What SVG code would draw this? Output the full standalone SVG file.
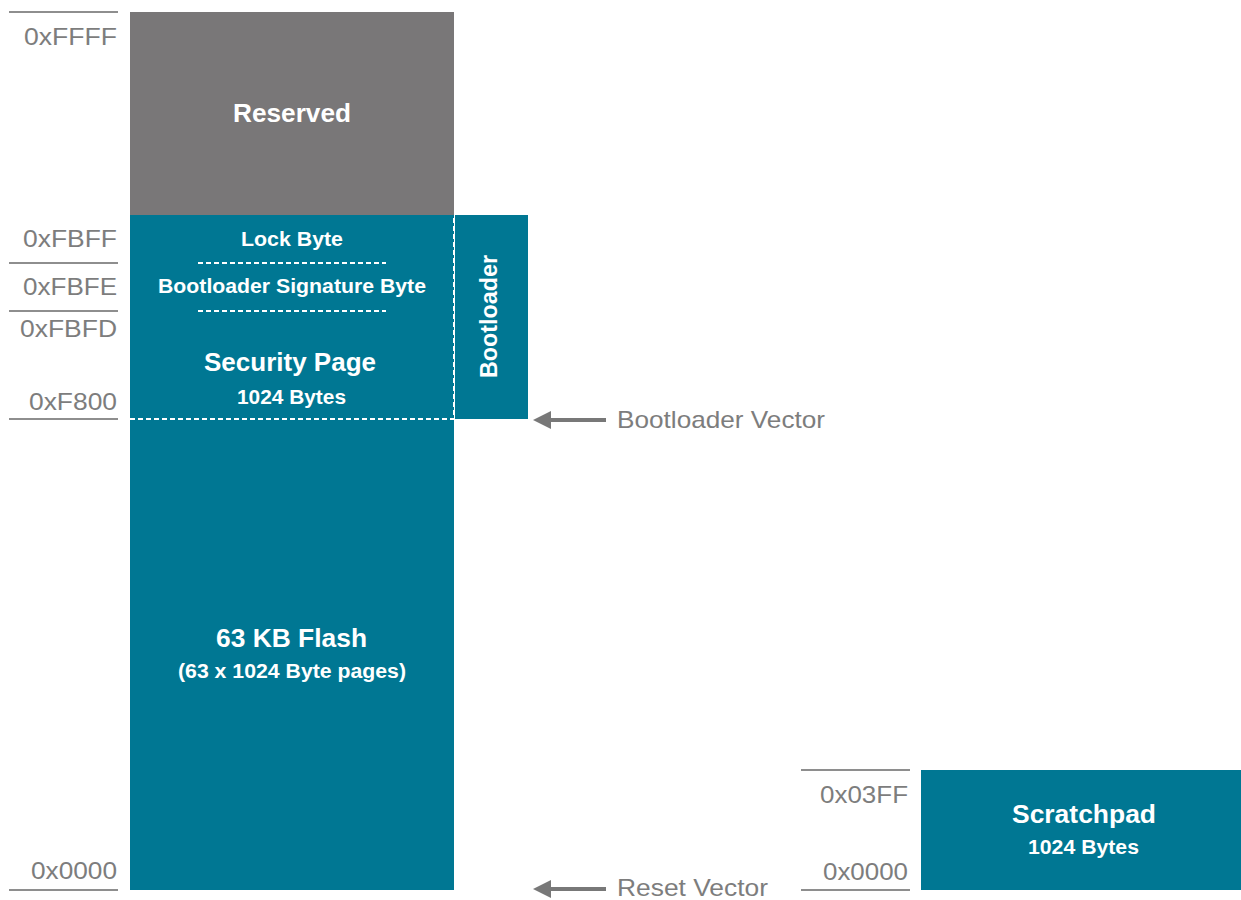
<svg xmlns="http://www.w3.org/2000/svg" width="1241" height="900" viewBox="0 0 1241 900">
  <defs>
    <style>
      .addr { font-family: "Liberation Sans", Arial, sans-serif; font-size: 23px; fill: #7d7d7d; text-anchor: end; }
      .vec { font-family: "Liberation Sans", Arial, sans-serif; font-size: 24px; fill: #7d7d7d; }
      .lbl { font-family: "Liberation Sans", Arial, sans-serif; font-weight: bold; fill: #ffffff; text-anchor: middle; }
      .big { font-size: 25px; }
      .small { font-size: 20px; }
      .tick { stroke: #8e8e8e; stroke-width: 2; fill: none; }
      .dash { stroke: #ffffff; stroke-width: 2; stroke-dasharray: 5 3; fill: none; }
      .teal { fill: #007793; }
      .arrow { stroke: #787878; stroke-width: 4; fill: none; marker-end: url(#head); }
    </style>
    <marker id="head" viewBox="0 0 18 18" refX="2" refY="9" markerUnits="userSpaceOnUse" markerWidth="18" markerHeight="18" orient="auto">
      <path d="M0,0 L18,9 L0,18 z" fill="#787878"/>
    </marker>
  </defs>

  <rect width="1241" height="900" fill="#ffffff"/>

  <g id="address-ticks">
    <line class="tick" x1="9" y1="12" x2="118" y2="12"/>
    <line class="tick" x1="9" y1="263" x2="118" y2="263"/>
    <line class="tick" x1="9" y1="311" x2="118" y2="311"/>
    <line class="tick" x1="9" y1="419" x2="118" y2="419"/>
    <line class="tick" x1="9" y1="890" x2="118" y2="890"/>
    <line class="tick" x1="801" y1="770" x2="910" y2="770"/>
    <line class="tick" x1="801" y1="890" x2="910" y2="890"/>
  </g>

  <g id="address-labels">
    <text class="addr" x="117" y="45" textLength="93" lengthAdjust="spacingAndGlyphs">0xFFFF</text>
    <text class="addr" x="117" y="247" textLength="94" lengthAdjust="spacingAndGlyphs">0xFBFF</text>
    <text class="addr" x="117" y="295" textLength="94" lengthAdjust="spacingAndGlyphs">0xFBFE</text>
    <text class="addr" x="117" y="337" textLength="97" lengthAdjust="spacingAndGlyphs">0xFBFD</text>
    <text class="addr" x="117" y="410" textLength="88" lengthAdjust="spacingAndGlyphs">0xF800</text>
    <text class="addr" x="117" y="879" textLength="86" lengthAdjust="spacingAndGlyphs">0x0000</text>
    <text class="addr" x="908" y="803" textLength="88" lengthAdjust="spacingAndGlyphs">0x03FF</text>
    <text class="addr" x="908" y="880" textLength="85" lengthAdjust="spacingAndGlyphs">0x0000</text>
  </g>

  <g id="reserved">
    <rect x="130" y="12" width="324" height="203" fill="#797778"/>
    <text class="lbl" x="292" y="122" style="font-size:26px" textLength="118" lengthAdjust="spacingAndGlyphs">Reserved</text>
  </g>

  <g id="flash">
    <rect class="teal" x="130" y="215" width="324" height="675"/>
    <text class="lbl big" x="291.5" y="647" textLength="151" lengthAdjust="spacingAndGlyphs">63 KB Flash</text>
    <text class="lbl small" x="292" y="678" textLength="228" lengthAdjust="spacingAndGlyphs">(63 x 1024 Byte pages)</text>
  </g>

  <g id="security-page">
    <path class="dash" d="M130,419 H454 V216"/>
    <line class="dash" x1="198" y1="263" x2="386" y2="263"/>
    <line class="dash" x1="198" y1="311" x2="386" y2="311"/>
    <text class="lbl small" x="292" y="246" textLength="102" lengthAdjust="spacingAndGlyphs">Lock Byte</text>
    <text class="lbl small" x="292" y="293" textLength="268" lengthAdjust="spacingAndGlyphs">Bootloader Signature Byte</text>
    <text class="lbl big" x="290" y="371" textLength="172" lengthAdjust="spacingAndGlyphs">Security Page</text>
    <text class="lbl small" x="291.5" y="404" textLength="109" lengthAdjust="spacingAndGlyphs">1024 Bytes</text>
  </g>

  <g id="bootloader">
    <rect class="teal" x="455" y="215" width="73" height="204"/>
    <text class="lbl" transform="translate(497,316.5) rotate(-90)" x="0" y="0" style="font-size:23px" textLength="123" lengthAdjust="spacingAndGlyphs">Bootloader</text>
  </g>

  <g id="scratchpad">
    <rect class="teal" x="921" y="770" width="320" height="120"/>
    <text class="lbl" x="1084" y="823" style="font-size:25px" textLength="144" lengthAdjust="spacingAndGlyphs">Scratchpad</text>
    <text class="lbl small" x="1083.5" y="854" textLength="111" lengthAdjust="spacingAndGlyphs">1024 Bytes</text>
  </g>

  <g id="connectors">
    <line class="arrow" x1="606" y1="420" x2="549" y2="420"/>
    <line class="arrow" x1="606" y1="889" x2="549" y2="889"/>
  </g>

  <g id="vector-labels">
    <text class="vec" x="617" y="428" textLength="208" lengthAdjust="spacingAndGlyphs">Bootloader Vector</text>
    <text class="vec" x="617" y="896" textLength="151" lengthAdjust="spacingAndGlyphs">Reset Vector</text>
  </g>
</svg>
